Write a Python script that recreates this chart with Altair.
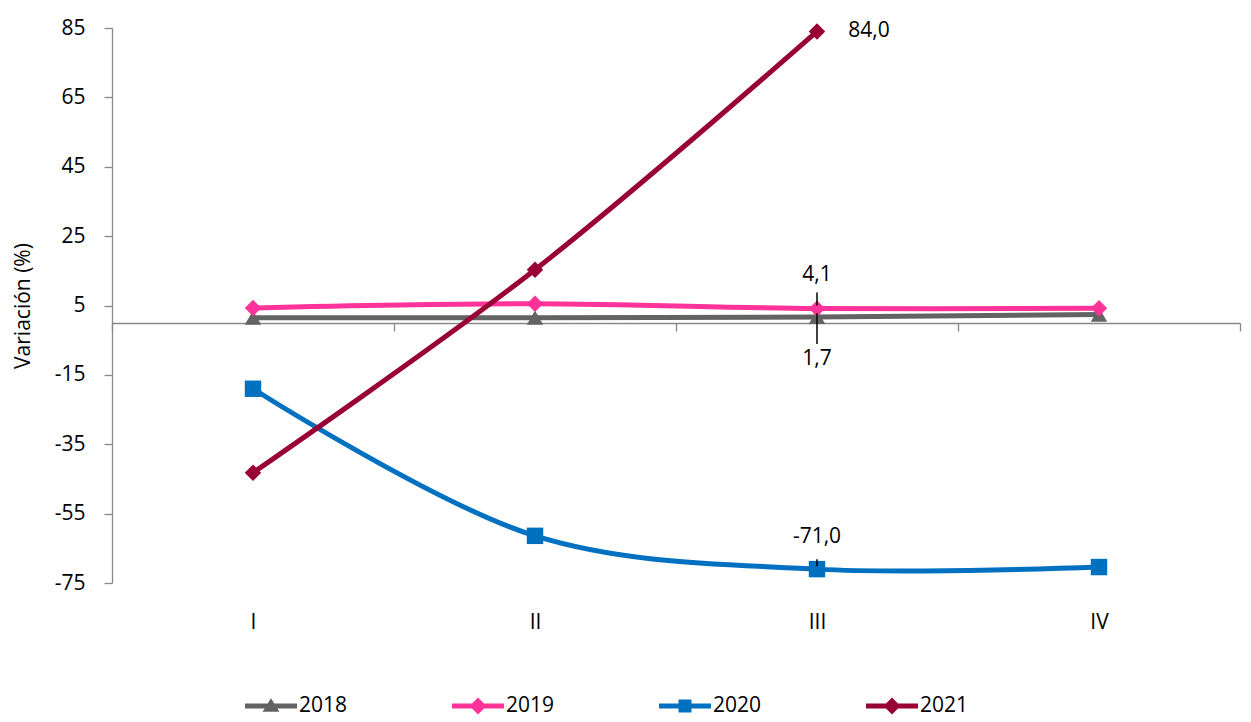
import altair as alt
import pandas as pd

quarters = ["I", "II", "III", "IV"]
years = ["2018", "2019", "2020", "2021"]
v2018 = [1.5, 1.5, 1.7, 2.4]
v2019 = [4.3, 5.5, 4.1, 4.2]
v2020 = [-19.0, -61.4, -71.0, -70.4]
v2021 = [-43.2, 15.3, 84.0]
colors = ["#636363", "#FF3399", "#0070C0", "#990033"]
marker_shapes = ["triangle-up", "diamond", "square", "diamond"]
y_ticks = [-75, -55, -35, -15, 5, 25, 45, 65, 85]

rows = []
for yr, vals in zip(years, [v2018, v2019, v2020, v2021]):
    for q, v in zip(quarters, vals):
        rows.append({"year": yr, "quarter": q, "value": v})
df = pd.DataFrame(rows)

FONT = "Open Sans"
FS = 21

x_enc = alt.X("quarter:N", sort=quarters, title=None,
              scale=alt.Scale(paddingInner=0, paddingOuter=0),
              axis=alt.Axis(offset=-260, labelPadding=280, tickBand="extent",
                            tickSize=8, labelAngle=0))
y_enc = alt.Y("value:Q", title="Variación (%)",
              scale=alt.Scale(domain=[-75, 85], nice=False, zero=False),
              axis=alt.Axis(values=y_ticks, grid=False, tickSize=8,
                            labelExpr="datum.value + ''",
                            labelPadding=19, titlePadding=21))
color_scale = alt.Scale(domain=years, range=colors)
x_plain = alt.X("quarter:N", sort=quarters)

layers = []
for yr, col, shp in zip(years, colors, marker_shapes):
    sub = df[df["year"] == yr]
    layers.append(alt.Chart(sub).mark_line(
        strokeWidth=5, interpolate="catmull-rom", color=col
    ).encode(x=x_enc, y=y_enc))
    layers.append(alt.Chart(sub).mark_point(
        filled=True, opacity=1, size=270, shape=shp, color=col
    ).encode(x=x_plain, y="value:Q"))

bar = "M-1,-0.2H3V0.2H-1Z "
legend_paths = [
    bar + "M0.35,0.45L1,-0.6L1.65,0.45Z",
    bar + "M1,-0.65L1.65,0L1,0.65L0.35,0Z",
    bar + "M0.5,-0.5H1.5V0.5H0.5Z",
    bar + "M1,-0.65L1.65,0L1,0.65L0.35,0Z",
]
leg = dict(title=None, orient="none", legendX=133, legendY=665,
           direction="horizontal", columns=4, columnPadding=104,
           symbolSize=676, symbolOpacity=1, symbolStrokeWidth=0,
           labelOffset=28)
legend_layer = alt.Chart(df).mark_point(filled=True, opacity=0).encode(
    x=x_plain,
    y="value:Q",
    color=alt.Color("year:N", scale=color_scale, legend=alt.Legend(**leg)),
    shape=alt.Shape("year:N", scale=alt.Scale(domain=years, range=legend_paths),
                    legend=alt.Legend(**leg)),
)

lab_df = pd.DataFrame({
    "year": ["2021", "2019", "2018", "2020"],
    "quarter": ["III", "III", "III", "III"],
    "value": [84.0, 4.1, 1.7, -71.0],
    "text": ["84,0", "4,1", "1,7", "-71,0"],
})

def label(i, dx, dy):
    return alt.Chart(lab_df.iloc[[i]]).mark_text(dx=dx, dy=dy).encode(
        x=x_plain, y="value:Q", text="text:N")

def leader(i, y0, y1):
    return alt.Chart(lab_df.iloc[[i]]).mark_rule(
        color="#000000", strokeWidth=1.5, yOffset=y0, y2Offset=y1
    ).encode(x=x_plain, y="value:Q", y2="value:Q")

labels = [label(0, 52, 0), label(1, 0, -34), label(2, 0, 42), label(3, 0, -32)]
leaders = [leader(1, -16, -3), leader(2, -4, 27), leader(3, -10, -3)]

chart = alt.layer(*layers, legend_layer, *leaders, *labels).properties(
    width=1128, height=555,
    autosize=alt.AutoSizeParams(type="none"),
    padding={"left": 104, "top": 20, "right": 2, "bottom": 136},
).configure_view(stroke=None).configure_axis(
    labelFont=FONT, labelFontSize=FS, labelColor="#000000",
    titleFont=FONT, titleFontSize=FS, titleFontWeight="normal",
    titleColor="#000000", domainColor="#888888", tickColor="#888888",
    domainWidth=1.3, tickWidth=1.3,
).configure_text(font=FONT, fontSize=FS, color="#000000").configure_legend(
    labelFont=FONT, labelFontSize=FS, labelColor="#000000"
)

chart.save("out.html", embed_options={"renderer": "svg", "actions": False})
